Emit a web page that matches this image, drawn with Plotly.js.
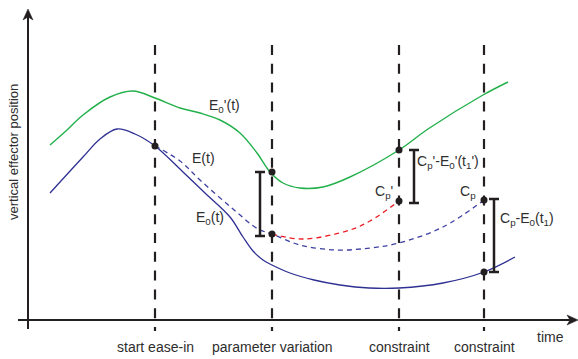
<!DOCTYPE html>
<html>
<head>
<meta charset="utf-8">
<script src="https://cdn.plot.ly/plotly-3.0.1.min.js"></script>
<style>
  html, body { margin: 0; padding: 0; background: #fff; }
  #chart { width: 578px; height: 359px; }
</style>
</head>
<body>
<div id="chart"></div>
<script>
// Time positions of the four events marked on the time axis
const eventTimes = [155, 272, 399, 484];
const eventLabels = ['start ease-in', 'parameter variation', 'constraint', 'constraint'];

// E0'(t): offset reference trajectory (green)
const e0pT = [50, 67, 83, 110, 133, 155, 180, 200, 220, 240, 257, 270, 283, 300, 323, 350, 399, 428, 483, 508];
const e0pY = [175, 190, 205, 223, 229, 222, 212, 207, 200, 187, 167, 148, 137, 132, 133, 143, 170, 191, 225, 238];

// E0(t): original trajectory (blue, solid)
const e0T = [50, 83, 100, 117, 135, 155, 183, 205, 230, 243, 253, 263, 272, 290, 314, 340, 369, 399, 443, 484, 515];
const e0Y = [127, 163, 181, 191, 186, 174, 148, 127, 103, 83, 69, 60, 55, 47, 40, 35, 32, 32, 37, 48, 63];

// E(t): eased trajectory towards the constraint (blue, dashed)
const eT = [155, 180, 200, 233, 258, 272, 300, 337, 370, 399, 443, 484];
const eY = [174, 159, 140, 111, 91, 86, 75, 70, 72, 77, 93, 120];

// Eased trajectory after the parameter variation (red, dashed)
const eVarT = [272, 303, 350, 370, 399];
const eVarY = [86, 81, 90, 99, 119];

// Key points on the trajectories
const dotT = [155, 272, 272, 399, 399, 484, 484];
const dotY = [174, 148, 86, 170, 119, 120, 48];

// Offsets between trajectories (vertical brackets)
const barT = [260, 414, 494];
const barLow = [84, 117, 48];
const barHigh = [148, 170, 121];

// Curve labels
const labelText = ["E<sub>0</sub>'(t)", 'E(t)', 'E<sub>0</sub>(t)', "C<sub>p</sub>'",
  "C<sub>p</sub>'-E<sub>0</sub>'(t<sub>1</sub>')", 'C<sub>p</sub>', 'C<sub>p</sub>-E<sub>0</sub>(t<sub>1</sub>)'];
const labelT = [224, 203, 210, 384, 448, 468, 527];
const labelY = [214, 162, 102, 128, 158, 128, 101];

const GREEN = '#22b04b';
const BLUE = '#2e3192';
const BLUE_DASH = '#3d40a0';
const RED = '#ed1c24';
const INK = '#231f20';
const TEXT = '#2e2e2e';
const FONT = 'Liberation Sans, Arial, sans-serif';

const traces = [
  { x: e0pT, y: e0pY, mode: 'lines', line: { color: GREEN, width: 1.4, shape: 'spline', smoothing: 1 } },
  { x: e0T, y: e0Y, mode: 'lines', line: { color: BLUE, width: 1.3, shape: 'spline', smoothing: 1 } },
  { x: eT, y: eY, mode: 'lines', line: { color: BLUE_DASH, width: 1.3, shape: 'spline', smoothing: 1, dash: '5px,4px' } },
  { x: eVarT, y: eVarY, mode: 'lines', line: { color: RED, width: 1.3, shape: 'spline', smoothing: 1, dash: '5px,4px' } },
  {
    x: barT,
    y: barLow,
    mode: 'markers',
    marker: { size: 1, opacity: 0 },
    error_y: {
      type: 'data', symmetric: false,
      array: barHigh.map((h, i) => h - barLow[i]),
      arrayminus: barLow.map(() => 0),
      color: INK, thickness: 2.5, width: 5
    }
  },
  { x: dotT, y: dotY, mode: 'markers', marker: { color: INK, size: 7 } }
];

const shapes = [];
// dashed event lines
eventTimes.forEach(t => {
  shapes.push({ type: 'line', xref: 'x', yref: 'y', x0: t, x1: t, y0: 275, y1: -11,
    line: { color: INK, width: 2.2, dash: '10px,8.8px' } });
});
// axes with arrowheads
shapes.push({ type: 'line', xref: 'x', yref: 'y', x0: 28, x1: 28, y0: -9, y1: 304, line: { color: INK, width: 2 } });
shapes.push({ type: 'line', xref: 'x', yref: 'y', x0: 18, x1: 571, y0: 0, y1: 0, line: { color: INK, width: 2 } });
shapes.push({ type: 'path', xref: 'x', yref: 'y', path: 'M 28,311 L 23,300 L 28,303 L 33,300 Z',
  fillcolor: INK, line: { color: INK, width: 0.5 } });
shapes.push({ type: 'path', xref: 'x', yref: 'y', path: 'M 578,0 L 567,5 L 570,0 L 567,-5 Z',
  fillcolor: INK, line: { color: INK, width: 0.5 } });

const annotations = [];
labelText.forEach((txt, i) => {
  annotations.push({ x: labelT[i], y: labelY[i], xref: 'x', yref: 'y', text: txt, showarrow: false,
    font: { family: FONT, size: 14, color: TEXT }, xanchor: 'center', yanchor: 'middle' });
});
eventTimes.forEach((t, i) => {
  annotations.push({ x: t, y: -27, xref: 'x', yref: 'y', text: eventLabels[i], showarrow: false,
    font: { family: FONT, size: 14, color: TEXT }, xanchor: 'center', yanchor: 'middle' });
});
annotations.push({ x: 550, y: -17, xref: 'x', yref: 'y', text: 'time', showarrow: false,
  font: { family: FONT, size: 14, color: TEXT }, xanchor: 'center', yanchor: 'middle' });
annotations.push({ x: 13, y: 168, xref: 'x', yref: 'y', text: 'vertical effector position', showarrow: false,
  textangle: -90, font: { family: FONT, size: 13, color: TEXT }, xanchor: 'center', yanchor: 'middle' });

const layout = {
  width: 578, height: 359,
  margin: { l: 0, r: 0, t: 0, b: 0 },
  paper_bgcolor: '#ffffff', plot_bgcolor: '#ffffff',
  showlegend: false,
  xaxis: { range: [0, 578], visible: false, fixedrange: true },
  yaxis: { range: [-39, 320], visible: false, fixedrange: true },
  shapes: shapes,
  annotations: annotations
};

Plotly.newPlot('chart', traces, layout, { staticPlot: true, displayModeBar: false });
</script>
</body>
</html>
